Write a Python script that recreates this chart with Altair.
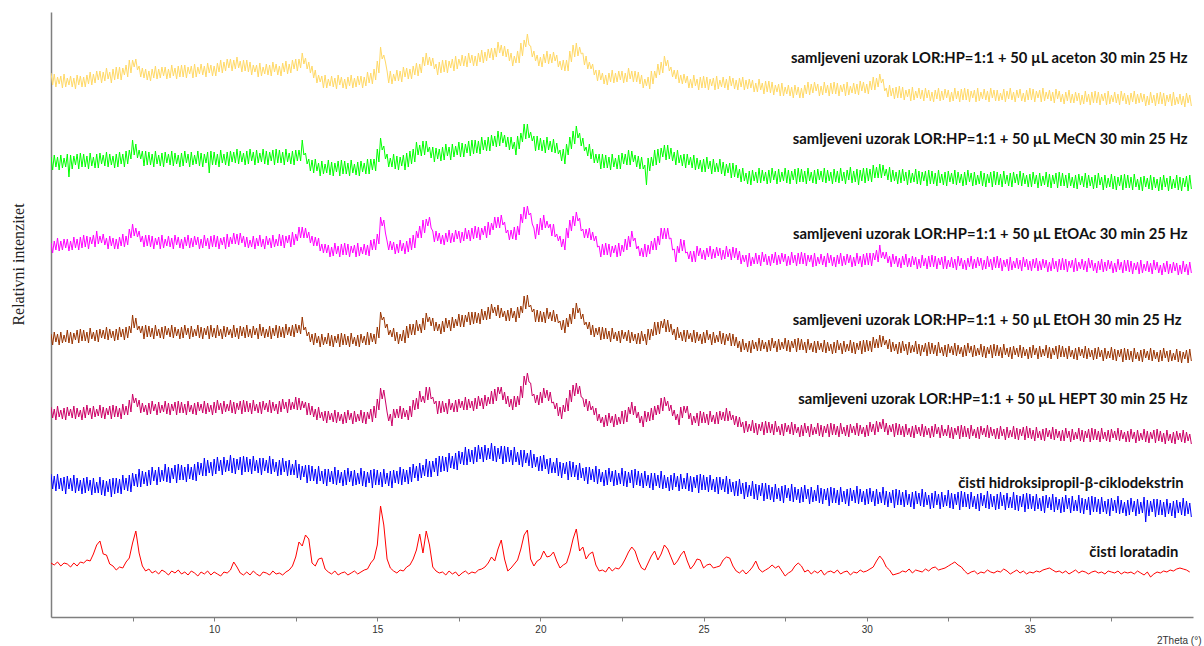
import altair as alt
import pandas as pd

# 2-theta scan grids (degrees): 0.1 step for loratadin, 0.05 step for the rest
theta_coarse = [round(5.0 + 0.1 * i, 2) for i in range(350)]
theta_fine = [round(5.0 + 0.05 * i, 2) for i in range(700)]

# Relative intensities (arbitrary units, each on its own baseline)
loratadin = [
    17, 15, 18, 14, 17, 16, 13, 17, 14, 18,
    17, 20, 19, 26, 35, 39, 26, 25, 16, 14,
    10, 13, 12, 18, 22, 37, 49, 27, 14, 9,
    11, 7, 9, 6, 10, 8, 5, 9, 7, 10,
    6, 8, 5, 9, 7, 4, 8, 6, 9, 5,
    8, 6, 4, 8, 7, 10, 18, 13, 7, 5,
    8, 5, 9, 6, 4, 8, 7, 5, 9, 6,
    7, 5, 8, 10, 14, 23, 38, 34, 45, 41,
    17, 14, 21, 22, 11, 8, 6, 9, 5, 7,
    8, 5, 7, 9, 6, 8, 10, 11, 17, 21,
    35, 74, 55, 21, 12, 9, 7, 10, 9, 13,
    15, 21, 30, 46, 27, 49, 35, 13, 9, 7,
    8, 5, 9, 6, 8, 4, 7, 9, 6, 8,
    7, 10, 11, 13, 17, 23, 19, 31, 40, 21,
    9, 12, 16, 20, 31, 45, 50, 21, 14, 19,
    21, 29, 23, 24, 28, 19, 12, 15, 17, 27,
    41, 51, 29, 33, 21, 26, 28, 15, 9, 10,
    8, 13, 9, 12, 11, 15, 21, 28, 33, 29,
    19, 12, 10, 17, 24, 29, 20, 26, 35, 31,
    23, 15, 19, 25, 29, 19, 11, 15, 21, 20,
    12, 15, 16, 12, 13, 14, 20, 23, 22, 14,
    9, 7, 10, 6, 9, 13, 19, 11, 8, 10,
    12, 15, 12, 14, 9, 4, 7, 9, 14, 17,
    14, 8, 10, 6, 9, 7, 10, 5, 8, 9,
    7, 10, 6, 8, 9, 5, 8, 7, 10, 8,
    9, 11, 13, 19, 24, 20, 13, 10, 5, 6,
    7, 9, 8, 11, 7, 10, 9, 8, 11, 9,
    12, 13, 10, 11, 12, 14, 16, 18, 15, 13,
    9, 6, 8, 9, 6, 8, 7, 10, 8, 7,
    9, 8, 11, 9, 6, 8, 10, 7, 9, 6,
    8, 7, 9, 8, 10, 11, 12, 10, 8, 9,
    7, 9, 6, 8, 10, 7, 9, 8, 6, 8,
    9, 7, 8, 6, 9, 8, 7, 9, 6, 8,
    7, 8, 6, 9, 7, 5, 8, 3, 6, 8,
    7, 9, 8, 10, 9, 11, 12, 11, 10, 8,
]

hp_beta_cd = [
    41, 26, 39, 24, 41, 26, 37, 24, 38, 21, 39, 26, 37, 24, 40, 22, 37, 24, 35, 21,
    37, 22, 38, 24, 35, 20, 37, 22, 33, 22, 38, 20, 35, 19, 34, 23, 36, 18, 37, 21,
    37, 22, 36, 21, 40, 25, 37, 24, 40, 23, 42, 29, 41, 28, 46, 28, 44, 31, 43, 29,
    45, 30, 48, 34, 45, 30, 48, 33, 45, 34, 51, 33, 48, 32, 47, 36, 50, 32, 51, 35,
    50, 35, 48, 33, 51, 36, 48, 35, 51, 34, 53, 40, 52, 39, 57, 39, 55, 42, 53, 39,
    56, 41, 58, 44, 55, 40, 58, 43, 55, 44, 60, 42, 57, 41, 56, 45, 58, 40, 59, 43,
    58, 43, 56, 41, 59, 44, 55, 42, 57, 40, 57, 44, 55, 42, 59, 41, 56, 43, 53, 39,
    55, 40, 57, 43, 54, 39, 55, 40, 51, 40, 55, 37, 51, 35, 49, 38, 50, 32, 50, 34,
    49, 34, 46, 31, 49, 34, 44, 31, 46, 29, 46, 33, 44, 31, 48, 30, 45, 32, 43, 29,
    45, 30, 47, 33, 44, 29, 45, 30, 42, 31, 47, 29, 44, 28, 43, 32, 45, 27, 46, 30,
    45, 30, 43, 28, 46, 31, 42, 29, 44, 27, 45, 32, 44, 31, 48, 30, 46, 33, 45, 31,
    48, 33, 51, 37, 49, 34, 52, 37, 50, 39, 56, 38, 54, 38, 54, 43, 57, 39, 59, 43,
    59, 44, 58, 43, 62, 47, 59, 46, 62, 45, 64, 51, 63, 50, 68, 50, 66, 53, 65, 51,
    68, 53, 70, 56, 68, 53, 70, 55, 67, 56, 72, 54, 69, 53, 67, 56, 69, 51, 69, 53,
    68, 53, 65, 50, 68, 53, 63, 50, 65, 48, 65, 52, 62, 49, 65, 47, 61, 48, 58, 44,
    59, 44, 60, 46, 56, 41, 57, 42, 53, 42, 57, 39, 53, 37, 52, 41, 53, 35, 54, 38,
    53, 38, 50, 35, 52, 37, 47, 34, 48, 31, 48, 35, 46, 33, 49, 31, 46, 33, 43, 29,
    45, 30, 47, 33, 44, 29, 45, 30, 42, 31, 47, 29, 44, 28, 43, 32, 45, 27, 46, 30,
    44, 29, 42, 27, 44, 29, 40, 27, 42, 25, 42, 29, 40, 27, 44, 26, 40, 27, 38, 24,
    40, 25, 42, 28, 39, 24, 41, 26, 37, 26, 42, 24, 39, 23, 38, 27, 40, 22, 41, 25,
    40, 25, 38, 23, 40, 25, 36, 23, 38, 21, 38, 25, 36, 23, 39, 21, 36, 23, 33, 19,
    34, 19, 36, 21, 32, 16, 33, 18, 30, 19, 34, 16, 31, 15, 30, 19, 32, 14, 32, 16,
    30, 15, 28, 13, 31, 16, 27, 14, 29, 12, 30, 17, 27, 14, 31, 13, 28, 15, 26, 12,
    28, 13, 30, 16, 26, 11, 28, 13, 25, 14, 30, 12, 27, 11, 26, 15, 27, 9, 28, 12,
    27, 12, 25, 10, 28, 13, 24, 11, 26, 9, 27, 14, 25, 12, 29, 11, 26, 13, 24, 10,
    26, 11, 27, 13, 24, 9, 26, 11, 23, 12, 28, 10, 24, 8, 23, 12, 25, 7, 26, 10,
    25, 10, 23, 8, 25, 10, 21, 8, 23, 6, 24, 11, 22, 9, 26, 8, 23, 10, 20, 6,
    22, 7, 24, 10, 21, 6, 23, 8, 20, 9, 25, 7, 22, 6, 21, 10, 23, 5, 24, 8,
    23, 8, 21, 6, 23, 8, 19, 6, 21, 4, 22, 9, 20, 7, 24, 6, 21, 8, 19, 5,
    21, 6, 23, 9, 20, 5, 22, 7, 18, 7, 23, 5, 20, 4, 19, 8, 21, 3, 22, 6,
    21, 6, 19, 4, 21, 6, 17, 4, 19, 2, 20, 7, 18, 5, 21, 3, 18, 5, 16, 2,
    18, 3, 20, 6, 17, 2, 19, 4, 15, 4, 20, 2, 17, 1, 16, 5, 18, 0, 19, 3,
    18, 3, 16, 1, 18, 3, 14, 1, 16, -1, 17, 4, 15, 2, 19, 1, 15, 2, 13, -1,
    15, 0, 17, 3, 14, -1, 16, 1, 13, 2, 18, -7, 15, -1, 14, 3, 16, -2, 16, 0,
    15, 0, 13, -2, 16, 1, 12, -1, 14, -3, 15, 2, 13, 0, 17, -1, 14, 1, 12, -2,
]

hept = [
    38, 27, 36, 25, 39, 28, 35, 26, 37, 25, 38, 29, 36, 27, 39, 26, 37, 28, 35, 25,
    38, 27, 40, 30, 37, 26, 39, 28, 36, 29, 40, 27, 38, 26, 37, 30, 39, 26, 40, 28,
    39, 28, 37, 26, 41, 30, 39, 30, 45, 33, 51, 42, 47, 38, 45, 32, 42, 33, 40, 30,
    42, 31, 44, 34, 41, 30, 43, 32, 40, 33, 44, 31, 42, 30, 41, 34, 43, 30, 44, 32,
    43, 32, 41, 30, 44, 33, 40, 31, 42, 30, 43, 34, 41, 32, 44, 31, 42, 33, 40, 30,
    43, 32, 45, 35, 42, 31, 44, 33, 41, 34, 45, 32, 43, 31, 42, 35, 44, 31, 45, 33,
    44, 33, 42, 31, 45, 34, 41, 32, 43, 31, 44, 35, 42, 33, 45, 32, 43, 34, 41, 31,
    44, 33, 46, 36, 43, 32, 46, 35, 43, 36, 48, 35, 47, 35, 44, 37, 43, 30, 42, 30,
    39, 28, 36, 25, 38, 27, 33, 24, 34, 22, 34, 25, 32, 23, 35, 22, 33, 24, 31, 21,
    33, 22, 35, 25, 32, 21, 34, 23, 31, 24, 35, 22, 33, 21, 33, 26, 36, 23, 39, 27,
    46, 35, 57, 46, 55, 44, 33, 24, 31, 19, 36, 27, 36, 27, 39, 26, 37, 28, 35, 25,
    39, 28, 45, 35, 47, 36, 54, 43, 49, 42, 58, 45, 58, 46, 48, 41, 44, 31, 44, 32,
    44, 33, 42, 31, 46, 35, 42, 33, 45, 33, 46, 37, 44, 35, 48, 35, 46, 37, 44, 34,
    47, 36, 49, 39, 47, 36, 50, 39, 48, 41, 54, 41, 56, 44, 58, 51, 58, 45, 53, 41,
    49, 38, 46, 35, 49, 38, 49, 40, 59, 47, 69, 60, 72, 63, 62, 49, 51, 42, 50, 40,
    53, 42, 57, 47, 55, 44, 53, 42, 43, 36, 42, 29, 38, 26, 40, 33, 47, 34, 55, 43,
    60, 49, 62, 51, 59, 48, 47, 38, 46, 34, 44, 35, 39, 30, 37, 24, 31, 22, 28, 18,
    30, 19, 32, 22, 29, 18, 31, 20, 28, 21, 34, 21, 35, 23, 38, 31, 43, 30, 39, 27,
    33, 22, 29, 18, 34, 23, 33, 24, 37, 25, 39, 30, 40, 31, 47, 34, 48, 39, 44, 34,
    40, 29, 35, 25, 31, 20, 38, 27, 39, 32, 39, 26, 32, 20, 29, 22, 32, 19, 34, 22,
    33, 22, 31, 20, 34, 23, 30, 21, 33, 21, 34, 25, 33, 24, 37, 24, 34, 25, 30, 20,
    29, 18, 28, 18, 23, 12, 24, 13, 21, 14, 25, 12, 22, 10, 21, 14, 23, 10, 24, 12,
    23, 12, 21, 10, 24, 13, 19, 10, 21, 9, 22, 13, 20, 11, 23, 10, 21, 12, 18, 8,
    20, 9, 22, 12, 19, 8, 21, 10, 18, 11, 22, 9, 20, 8, 19, 12, 21, 8, 22, 10,
    21, 10, 19, 8, 22, 11, 18, 9, 20, 8, 21, 12, 19, 10, 22, 9, 20, 11, 18, 8,
    20, 9, 23, 13, 21, 10, 24, 13, 23, 16, 26, 13, 22, 10, 20, 13, 21, 8, 22, 10,
    21, 10, 19, 8, 21, 10, 17, 8, 19, 7, 20, 11, 18, 9, 21, 8, 19, 10, 17, 7,
    19, 8, 21, 11, 18, 7, 20, 9, 16, 9, 20, 7, 18, 6, 17, 10, 19, 6, 20, 8,
    19, 8, 17, 6, 20, 9, 16, 7, 18, 6, 19, 10, 17, 8, 20, 7, 18, 9, 16, 6,
    17, 6, 19, 9, 16, 5, 18, 7, 15, 8, 19, 6, 17, 5, 16, 9, 18, 5, 19, 7,
    17, 6, 15, 4, 18, 7, 14, 5, 16, 4, 17, 8, 15, 6, 18, 5, 16, 7, 14, 4,
    15, 4, 17, 7, 14, 3, 16, 5, 13, 6, 17, 4, 15, 3, 14, 7, 16, 3, 17, 5,
    16, 5, 14, 3, 17, 6, 13, 4, 15, 3, 16, 7, 14, 5, 17, 4, 15, 6, 13, 3,
    14, 3, 16, 6, 13, 2, 15, 4, 12, 5, 16, 3, 14, 2, 13, 6, 15, 2, 16, 4,
    14, 3, 12, 1, 15, 4, 11, 2, 13, 1, 14, 5, 12, 3, 15, 2, 13, 4, 11, 1,
]

etoh = [
    31, 20, 33, 23, 31, 20, 33, 22, 30, 23, 35, 22, 33, 21, 32, 25, 35, 22, 36, 24,
    35, 24, 33, 22, 37, 26, 33, 24, 35, 23, 36, 27, 35, 26, 38, 25, 36, 27, 34, 24,
    36, 25, 38, 28, 36, 25, 38, 27, 39, 32, 50, 37, 47, 35, 39, 32, 39, 26, 40, 28,
    39, 28, 37, 26, 40, 29, 36, 27, 38, 26, 39, 30, 37, 28, 40, 27, 38, 29, 36, 26,
    38, 27, 40, 30, 37, 26, 39, 28, 36, 29, 40, 27, 38, 26, 37, 30, 39, 26, 40, 28,
    37, 27, 40, 29, 36, 26, 39, 28, 38, 30, 36, 27, 40, 28, 37, 26, 39, 29, 38, 27,
    40, 28, 36, 27, 39, 30, 37, 26, 41, 29, 38, 27, 36, 28, 39, 26, 37, 29, 40, 27,
    39, 28, 38, 27, 41, 30, 38, 29, 40, 28, 41, 32, 40, 31, 48, 35, 38, 29, 33, 23,
    31, 20, 32, 22, 29, 18, 31, 20, 28, 21, 32, 19, 30, 18, 29, 22, 31, 18, 32, 20,
    31, 20, 29, 18, 32, 21, 28, 19, 30, 18, 31, 22, 29, 20, 33, 20, 32, 23, 31, 21,
    38, 27, 53, 45, 48, 37, 41, 30, 35, 28, 37, 24, 33, 21, 31, 24, 35, 22, 39, 27,
    41, 30, 41, 30, 45, 34, 41, 32, 47, 35, 52, 43, 48, 39, 47, 34, 43, 34, 41, 31,
    44, 33, 47, 37, 45, 34, 48, 37, 46, 39, 51, 38, 50, 38, 50, 43, 53, 40, 53, 41,
    53, 42, 52, 41, 56, 45, 54, 45, 58, 46, 61, 52, 58, 49, 60, 47, 57, 48, 54, 44,
    55, 44, 57, 47, 54, 43, 58, 47, 59, 52, 69, 56, 70, 58, 60, 53, 56, 43, 55, 43,
    54, 43, 53, 42, 57, 46, 53, 44, 55, 43, 51, 42, 44, 35, 45, 32, 47, 38, 51, 41,
    57, 46, 62, 52, 57, 46, 51, 40, 43, 36, 43, 30, 40, 28, 37, 30, 38, 25, 38, 26,
    37, 26, 34, 23, 37, 26, 33, 24, 34, 22, 35, 26, 33, 24, 35, 22, 33, 24, 31, 21,
    32, 21, 34, 24, 31, 20, 36, 25, 36, 29, 43, 30, 43, 31, 44, 37, 46, 33, 45, 33,
    41, 30, 36, 25, 38, 27, 33, 24, 35, 23, 35, 26, 32, 23, 35, 22, 33, 24, 31, 21,
    33, 22, 35, 25, 31, 20, 33, 22, 30, 23, 34, 21, 32, 20, 31, 24, 32, 19, 31, 19,
    28, 17, 24, 13, 26, 15, 22, 13, 24, 12, 25, 16, 23, 14, 27, 14, 25, 16, 23, 13,
    25, 14, 27, 17, 24, 13, 26, 15, 23, 16, 27, 14, 25, 13, 24, 17, 26, 13, 27, 15,
    26, 15, 23, 12, 26, 15, 22, 13, 24, 12, 24, 15, 22, 13, 25, 12, 23, 14, 21, 11,
    23, 12, 25, 15, 22, 11, 24, 13, 21, 14, 25, 12, 23, 11, 22, 15, 24, 11, 25, 13,
    25, 14, 24, 13, 28, 17, 26, 17, 30, 18, 29, 20, 25, 16, 26, 13, 23, 14, 21, 11,
    23, 12, 24, 14, 21, 10, 23, 12, 20, 13, 24, 11, 21, 9, 20, 13, 22, 9, 23, 11,
    22, 11, 20, 9, 23, 12, 18, 9, 20, 8, 21, 12, 19, 10, 22, 9, 20, 11, 18, 8,
    20, 9, 22, 12, 19, 8, 20, 9, 17, 10, 21, 8, 19, 7, 18, 11, 20, 7, 21, 9,
    20, 9, 18, 7, 21, 10, 17, 8, 18, 6, 19, 10, 17, 8, 20, 7, 18, 9, 16, 6,
    18, 7, 20, 10, 17, 6, 19, 8, 16, 9, 20, 7, 18, 6, 17, 10, 19, 6, 20, 8,
    19, 8, 17, 6, 19, 8, 15, 6, 17, 5, 18, 9, 16, 7, 19, 6, 17, 8, 15, 5,
    17, 6, 18, 8, 15, 4, 17, 6, 14, 7, 18, 5, 16, 4, 15, 8, 16, 3, 17, 5,
    16, 5, 14, 3, 17, 6, 13, 4, 15, 3, 16, 7, 14, 5, 17, 4, 15, 6, 13, 3,
    15, 4, 17, 7, 14, 3, 15, 4, 12, 5, 16, 3, 14, 2, 13, 6, 15, 2, 16, 4,
]

etoac = [
    32, 22, 34, 25, 37, 24, 34, 25, 36, 27, 36, 24, 34, 25, 38, 27, 36, 25, 38, 27,
    40, 28, 39, 26, 38, 31, 40, 28, 44, 31, 39, 32, 41, 30, 37, 26, 39, 29, 37, 26,
    36, 26, 38, 29, 41, 28, 39, 30, 46, 37, 51, 39, 47, 38, 44, 33, 39, 28, 40, 29,
    40, 28, 39, 26, 37, 30, 38, 26, 40, 27, 36, 29, 39, 28, 37, 26, 40, 30, 38, 27,
    36, 26, 38, 29, 40, 27, 37, 28, 39, 30, 38, 26, 36, 27, 40, 29, 37, 26, 39, 28,
    40, 28, 39, 26, 37, 30, 38, 26, 41, 28, 38, 31, 42, 31, 41, 30, 42, 32, 39, 28,
    38, 27, 35, 28, 39, 26, 37, 29, 40, 28, 36, 26, 39, 30, 37, 27, 40, 28, 36, 29,
    41, 29, 40, 27, 39, 32, 40, 28, 43, 30, 41, 34, 48, 37, 48, 37, 47, 37, 43, 32,
    39, 29, 38, 29, 37, 24, 31, 22, 31, 22, 30, 18, 28, 19, 32, 21, 29, 18, 31, 20,
    32, 20, 31, 18, 29, 22, 30, 18, 32, 19, 28, 21, 31, 20, 30, 19, 35, 25, 36, 25,
    41, 31, 58, 49, 55, 42, 34, 25, 34, 25, 33, 21, 31, 22, 35, 24, 32, 21, 34, 23,
    37, 25, 40, 27, 44, 37, 49, 37, 55, 42, 56, 49, 58, 47, 44, 33, 44, 34, 42, 31,
    40, 30, 42, 33, 45, 32, 42, 33, 45, 36, 44, 32, 43, 34, 47, 36, 45, 34, 47, 36,
    49, 37, 48, 35, 47, 40, 49, 37, 53, 40, 52, 45, 58, 47, 58, 47, 60, 50, 53, 42,
    45, 35, 45, 36, 48, 35, 49, 40, 61, 52, 68, 56, 69, 60, 62, 51, 47, 36, 51, 40,
    57, 45, 60, 47, 54, 47, 51, 39, 51, 38, 41, 34, 39, 28, 36, 25, 47, 37, 55, 44,
    59, 49, 63, 54, 57, 44, 46, 37, 46, 37, 47, 35, 43, 34, 39, 28, 29, 18, 31, 20,
    32, 20, 31, 18, 29, 22, 30, 18, 32, 19, 30, 23, 36, 25, 39, 28, 44, 34, 37, 26,
    29, 19, 27, 18, 31, 18, 30, 21, 34, 25, 37, 25, 39, 30, 47, 36, 47, 36, 47, 36,
    37, 25, 26, 13, 29, 22, 36, 24, 35, 22, 23, 16, 24, 13, 24, 13, 29, 19, 27, 16,
    25, 15, 27, 18, 29, 16, 26, 17, 28, 19, 27, 15, 25, 16, 29, 18, 26, 15, 28, 17,
    27, 15, 24, 11, 20, 13, 20, 8, 22, 9, 18, 11, 22, 11, 20, 9, 23, 13, 21, 10,
    19, 9, 21, 12, 23, 10, 20, 11, 22, 13, 21, 9, 19, 10, 23, 12, 20, 9, 22, 11,
    23, 11, 22, 9, 20, 13, 20, 8, 22, 9, 18, 11, 21, 10, 19, 8, 22, 12, 20, 9,
    18, 8, 20, 11, 22, 9, 19, 10, 21, 12, 20, 8, 18, 9, 22, 11, 19, 8, 21, 10,
    22, 10, 22, 9, 22, 15, 25, 13, 30, 17, 23, 16, 23, 12, 19, 8, 21, 11, 19, 8,
    17, 7, 19, 10, 21, 8, 17, 8, 19, 10, 18, 6, 16, 7, 20, 9, 17, 6, 19, 8,
    20, 8, 19, 6, 17, 10, 18, 6, 19, 6, 15, 8, 18, 7, 16, 5, 19, 9, 17, 6,
    15, 5, 17, 8, 19, 6, 16, 7, 18, 9, 17, 5, 15, 6, 19, 8, 16, 5, 18, 7,
    19, 7, 17, 4, 15, 8, 16, 4, 18, 5, 14, 7, 17, 6, 15, 4, 18, 8, 16, 5,
    14, 4, 16, 7, 17, 4, 14, 5, 16, 7, 15, 3, 13, 4, 17, 6, 14, 3, 16, 5,
    17, 5, 16, 3, 14, 7, 15, 3, 17, 4, 13, 6, 16, 5, 14, 3, 17, 7, 15, 4,
    12, 2, 14, 5, 16, 3, 13, 4, 15, 6, 14, 2, 12, 3, 16, 5, 13, 2, 15, 4,
    15, 3, 14, 1, 12, 5, 13, 1, 15, 2, 11, 4, 14, 3, 12, 1, 15, 5, 13, 2,
    10, 0, 12, 3, 14, 1, 11, 2, 13, 4, 12, 0, 10, 1, 14, 3, 11, 0, 13, 2,
]

mecn = [
    38, 25, 40, 28, 38, 25, 40, 27, 37, 28, 41, 18, 40, 26, 39, 30, 41, 26, 42, 28,
    41, 28, 39, 26, 42, 29, 38, 27, 41, 27, 42, 31, 40, 29, 43, 28, 41, 30, 39, 27,
    41, 28, 43, 31, 41, 28, 44, 31, 45, 36, 55, 40, 51, 37, 45, 36, 44, 29, 44, 30,
    43, 30, 41, 28, 44, 31, 40, 29, 42, 28, 43, 32, 41, 30, 44, 29, 42, 31, 40, 28,
    42, 29, 44, 32, 41, 28, 43, 30, 40, 31, 44, 29, 42, 28, 41, 32, 43, 22, 44, 30,
    43, 30, 41, 28, 45, 32, 41, 30, 43, 29, 44, 33, 43, 32, 46, 31, 44, 33, 42, 30,
    44, 31, 46, 34, 43, 30, 45, 32, 42, 33, 46, 31, 44, 30, 43, 34, 45, 30, 46, 32,
    45, 32, 43, 30, 46, 33, 42, 31, 44, 30, 45, 34, 45, 34, 55, 40, 42, 31, 36, 24,
    35, 22, 36, 24, 32, 19, 34, 21, 31, 22, 35, 20, 33, 19, 32, 23, 34, 19, 35, 21,
    34, 21, 32, 19, 35, 22, 31, 20, 33, 19, 34, 23, 32, 21, 36, 21, 36, 25, 36, 24,
    46, 33, 57, 45, 49, 36, 41, 28, 37, 28, 41, 26, 39, 25, 38, 29, 40, 25, 42, 28,
    44, 31, 46, 33, 53, 40, 50, 39, 54, 40, 54, 43, 48, 37, 48, 33, 47, 36, 46, 34,
    48, 35, 51, 39, 48, 35, 51, 38, 49, 40, 53, 38, 52, 38, 51, 42, 54, 39, 55, 41,
    55, 42, 54, 41, 58, 45, 55, 44, 58, 44, 60, 49, 59, 48, 64, 49, 63, 52, 60, 48,
    58, 45, 58, 46, 53, 40, 59, 46, 62, 53, 71, 56, 71, 57, 63, 54, 59, 44, 59, 45,
    57, 44, 55, 42, 58, 45, 54, 43, 56, 42, 52, 41, 45, 34, 46, 31, 51, 40, 58, 46,
    64, 51, 69, 57, 62, 49, 57, 44, 48, 39, 51, 36, 46, 32, 41, 32, 41, 26, 41, 27,
    40, 27, 38, 25, 41, 28, 37, 26, 40, 26, 42, 31, 41, 30, 45, 30, 44, 33, 40, 28,
    39, 26, 38, 26, 30, 10, 37, 24, 38, 29, 45, 30, 46, 32, 47, 38, 50, 35, 50, 36,
    47, 34, 43, 30, 45, 32, 40, 29, 41, 27, 41, 30, 38, 27, 40, 25, 37, 26, 35, 23,
    36, 23, 38, 26, 34, 21, 36, 23, 32, 23, 36, 21, 33, 19, 31, 22, 32, 17, 32, 18,
    30, 17, 26, 13, 27, 14, 22, 11, 24, 10, 25, 14, 23, 12, 27, 12, 25, 14, 23, 11,
    25, 12, 27, 15, 24, 11, 26, 13, 23, 14, 27, 12, 25, 11, 24, 15, 26, 11, 27, 13,
    26, 13, 24, 11, 27, 14, 23, 12, 25, 11, 26, 15, 24, 13, 27, 12, 25, 14, 23, 11,
    26, 13, 24, 12, 27, 14, 23, 11, 25, 15, 28, 12, 24, 13, 26, 10, 25, 14, 27, 12,
    27, 14, 26, 13, 30, 17, 28, 17, 31, 17, 30, 19, 26, 15, 28, 13, 25, 14, 23, 11,
    25, 12, 26, 14, 23, 10, 25, 12, 22, 13, 26, 11, 24, 10, 23, 14, 24, 9, 25, 11,
    24, 11, 22, 9, 25, 12, 21, 10, 23, 9, 24, 13, 22, 11, 25, 10, 23, 12, 21, 9,
    23, 10, 25, 13, 22, 9, 23, 10, 20, 11, 24, 9, 22, 8, 21, 12, 23, 8, 24, 10,
    23, 10, 21, 8, 24, 11, 20, 9, 22, 8, 23, 12, 21, 10, 24, 9, 22, 11, 20, 8,
    21, 8, 23, 11, 20, 7, 22, 9, 19, 10, 23, 8, 21, 7, 20, 11, 22, 7, 23, 9,
    22, 9, 20, 7, 22, 9, 18, 7, 20, 6, 21, 10, 19, 8, 22, 7, 20, 9, 18, 6,
    20, 7, 22, 10, 18, 5, 20, 7, 17, 8, 21, 6, 19, 5, 18, 9, 20, 5, 21, 7,
    20, 7, 18, 5, 21, 8, 16, 5, 18, 4, 19, 8, 17, 6, 20, 5, 18, 7, 16, 4,
    18, 5, 20, 8, 17, 4, 19, 6, 16, 7, 20, 5, 18, 4, 17, 8, 19, 4, 20, 6,
]

aceton = [
    37, 25, 36, 23, 33, 26, 34, 22, 36, 23, 32, 25, 34, 23, 32, 21, 35, 25, 34, 23,
    33, 23, 35, 26, 38, 25, 36, 27, 39, 30, 39, 27, 38, 29, 42, 31, 38, 27, 41, 30,
    43, 31, 43, 30, 42, 35, 45, 33, 50, 37, 50, 43, 51, 40, 44, 33, 42, 32, 41, 30,
    39, 29, 41, 32, 44, 31, 41, 32, 43, 34, 43, 31, 41, 32, 45, 34, 42, 31, 44, 33,
    45, 33, 45, 32, 43, 36, 44, 32, 46, 33, 43, 36, 46, 35, 44, 33, 47, 37, 45, 34,
    44, 34, 47, 38, 50, 37, 48, 39, 51, 42, 51, 39, 50, 41, 53, 42, 49, 38, 50, 39,
    50, 38, 48, 35, 45, 38, 45, 33, 47, 34, 43, 36, 46, 35, 45, 34, 48, 38, 46, 35,
    44, 34, 47, 38, 49, 36, 46, 37, 50, 41, 51, 39, 51, 42, 57, 46, 52, 41, 48, 37,
    44, 32, 40, 27, 35, 28, 34, 22, 35, 22, 31, 24, 34, 23, 32, 21, 35, 25, 33, 22,
    31, 21, 33, 24, 35, 22, 32, 23, 34, 25, 34, 22, 33, 24, 38, 27, 37, 26, 41, 30,
    49, 37, 63, 51, 55, 48, 39, 27, 39, 26, 36, 29, 40, 29, 39, 28, 43, 33, 42, 31,
    41, 31, 44, 35, 47, 34, 46, 37, 53, 44, 57, 45, 53, 44, 52, 41, 46, 35, 48, 37,
    50, 38, 50, 37, 49, 42, 51, 39, 54, 41, 51, 44, 55, 44, 54, 43, 57, 47, 55, 44,
    54, 44, 57, 48, 60, 47, 58, 49, 61, 52, 62, 50, 62, 53, 68, 57, 65, 54, 64, 53,
    61, 49, 57, 44, 54, 47, 59, 47, 67, 54, 70, 63, 76, 65, 64, 53, 59, 49, 55, 44,
    53, 43, 56, 47, 59, 46, 56, 47, 58, 49, 55, 43, 49, 40, 50, 39, 50, 39, 59, 48,
    65, 53, 67, 54, 63, 56, 57, 45, 54, 41, 48, 41, 46, 35, 40, 29, 40, 30, 37, 26,
    35, 25, 37, 28, 40, 27, 37, 28, 39, 30, 39, 27, 37, 28, 42, 31, 39, 28, 39, 28,
    38, 26, 35, 22, 31, 24, 33, 21, 39, 26, 39, 32, 46, 35, 48, 37, 54, 44, 50, 39,
    43, 33, 40, 31, 40, 27, 35, 26, 36, 27, 34, 22, 31, 22, 35, 24, 31, 20, 33, 22,
    34, 22, 33, 20, 31, 24, 32, 20, 34, 21, 30, 23, 33, 22, 31, 20, 34, 24, 32, 21,
    30, 20, 32, 23, 33, 20, 30, 21, 31, 22, 30, 18, 27, 18, 31, 20, 27, 16, 29, 18,
    29, 17, 28, 15, 25, 18, 26, 14, 27, 14, 23, 16, 25, 14, 23, 12, 25, 15, 23, 12,
    22, 12, 25, 16, 28, 15, 26, 17, 28, 19, 26, 14, 24, 15, 28, 17, 25, 14, 27, 16,
    28, 16, 27, 14, 25, 18, 26, 14, 28, 15, 24, 17, 27, 16, 26, 15, 29, 19, 28, 17,
    26, 16, 29, 20, 33, 20, 32, 23, 36, 27, 31, 19, 22, 13, 25, 14, 22, 11, 23, 12,
    24, 12, 23, 10, 20, 13, 21, 9, 23, 10, 19, 12, 22, 11, 20, 9, 22, 12, 20, 9,
    18, 8, 20, 11, 22, 9, 19, 10, 21, 12, 20, 8, 18, 9, 22, 11, 19, 8, 21, 10,
    22, 10, 21, 8, 19, 12, 20, 8, 22, 9, 18, 11, 21, 10, 19, 8, 22, 12, 20, 9,
    20, 9, 17, 10, 21, 8, 19, 11, 22, 10, 18, 8, 20, 12, 21, 9, 17, 8, 20, 10,
    22, 10, 21, 8, 19, 12, 20, 8, 22, 9, 18, 11, 20, 9, 18, 7, 21, 11, 19, 8,
    16, 6, 18, 9, 20, 7, 16, 7, 18, 9, 17, 5, 15, 6, 19, 8, 16, 5, 18, 7,
    19, 7, 18, 5, 16, 9, 17, 5, 19, 6, 15, 8, 18, 7, 16, 5, 19, 9, 17, 6,
    15, 5, 17, 8, 19, 6, 16, 7, 17, 8, 16, 4, 14, 5, 18, 7, 15, 4, 17, 6,
    18, 6, 17, 4, 15, 8, 16, 4, 18, 5, 13, 6, 16, 5, 14, 3, 17, 7, 15, 4,
]

# Samples from bottom to top, vertical stacking offsets and line colours
samples = ["loratadin", "HP-β-CD", "HEPT", "EtOH", "EtOAc", "MeCN", "aceton"]
series = [loratadin, hp_beta_cd, hept, etoh, etoac, mecn, aceton]
grids = [theta_coarse] + [theta_fine] * 6
offsets = [37, 102, 172, 252, 342, 422, 507]
colors = ["#FF0000", "#0000FF", "#CC0066", "#993300", "#FF00FF", "#00FF00", "#FFD966"]

# Curve captions, right-aligned at the given 2-theta, vertical level in plot units
captions = [
    "čisti loratadin",
    "čisti hidroksipropil-β-ciklodekstrin",
    "samljeveni uzorak LOR:HP=1:1 + 50 µL HEPT 30 min 25 Hz",
    "samljeveni uzorak LOR:HP=1:1 + 50 µL EtOH 30 min 25 Hz",
    "samljeveni uzorak LOR:HP=1:1 + 50 µL EtOAc 30 min 25 Hz",
    "samljeveni uzorak LOR:HP=1:1 + 50 µL MeCN 30 min 25 Hz",
    "samljeveni uzorak LOR:HP=1:1 + 50 µL aceton 30 min 25 Hz",
]
caption_theta = [39.55, 39.71, 39.83, 39.65, 39.83, 39.83, 39.83]
caption_level = [64, 133, 217, 296, 382, 477, 558]

rows = []
for name, grid, vals, off in zip(samples, grids, series, offsets):
    for t, v in zip(grid, vals):
        rows.append({"theta": t, "level": off + v, "sample": name})
df = pd.DataFrame(rows)

cap_df = pd.DataFrame({"theta": caption_theta, "level": caption_level, "text": captions})

x_scale = alt.Scale(domain=[5, 40], nice=False, zero=False)
y_scale = alt.Scale(domain=[0, 605], nice=False, zero=False)

tick_values = [7.5, 10, 12.5, 15, 17.5, 20, 22.5, 25, 27.5, 30, 32.5, 35, 37.5]

lines = alt.Chart(df).mark_line(strokeWidth=1, clip=True).encode(
    x=alt.X(
        "theta:Q",
        scale=x_scale,
        axis=alt.Axis(
            values=tick_values,
            labelExpr="datum.value % 5 == 0 ? datum.label : ''",
            grid=False,
            domainColor="#7f7f7f",
            domainWidth=1.5,
            tickColor="#7f7f7f",
            tickSize=4,
            labelFont="Liberation Sans",
            labelFontSize=10,
            labelColor="#333333",
            labelPadding=3,
            title="2Theta (°)",
            titleFont="Liberation Sans",
            titleFontSize=10,
            titleFontWeight="normal",
            titleColor="#333333",
            titleAlign="right",
            titleBaseline="middle",
            titleX=1150,
            titleY=23,
        ),
    ),
    y=alt.Y(
        "level:Q",
        scale=y_scale,
        axis=alt.Axis(
            ticks=False,
            labels=False,
            grid=False,
            domainColor="#7f7f7f",
            domainWidth=1.5,
            title="Relativni intenzitet",
            titleFont="Liberation Serif",
            titleFontSize=16,
            titleFontWeight="normal",
            titleColor="#222222",
            titleAngle=270,
            titleAlign="center",
            titleBaseline="middle",
            titleX=-33,
            titleY=252,
        ),
    ),
    color=alt.Color("sample:N", scale=alt.Scale(domain=samples, range=colors), legend=None),
    detail="sample:N",
)

texts = alt.Chart(cap_df).mark_text(
    align="right",
    baseline="middle",
    font="Lato",
    fontWeight="bold",
    fontSize=14.8,
    color="#111111",
).encode(
    x=alt.X("theta:Q", scale=x_scale),
    y=alt.Y("level:Q", scale=y_scale),
    text="text:N",
)

chart = (
    alt.layer(lines, texts)
    .properties(
        width=1142,
        height=605,
        autosize="none",
        padding={"left": 51, "top": 12, "right": 11, "bottom": 29},
        background="white",
    )
    .configure_view(stroke=None)
)

chart.save("out.html", embed_options={"renderer": "svg", "actions": False})
